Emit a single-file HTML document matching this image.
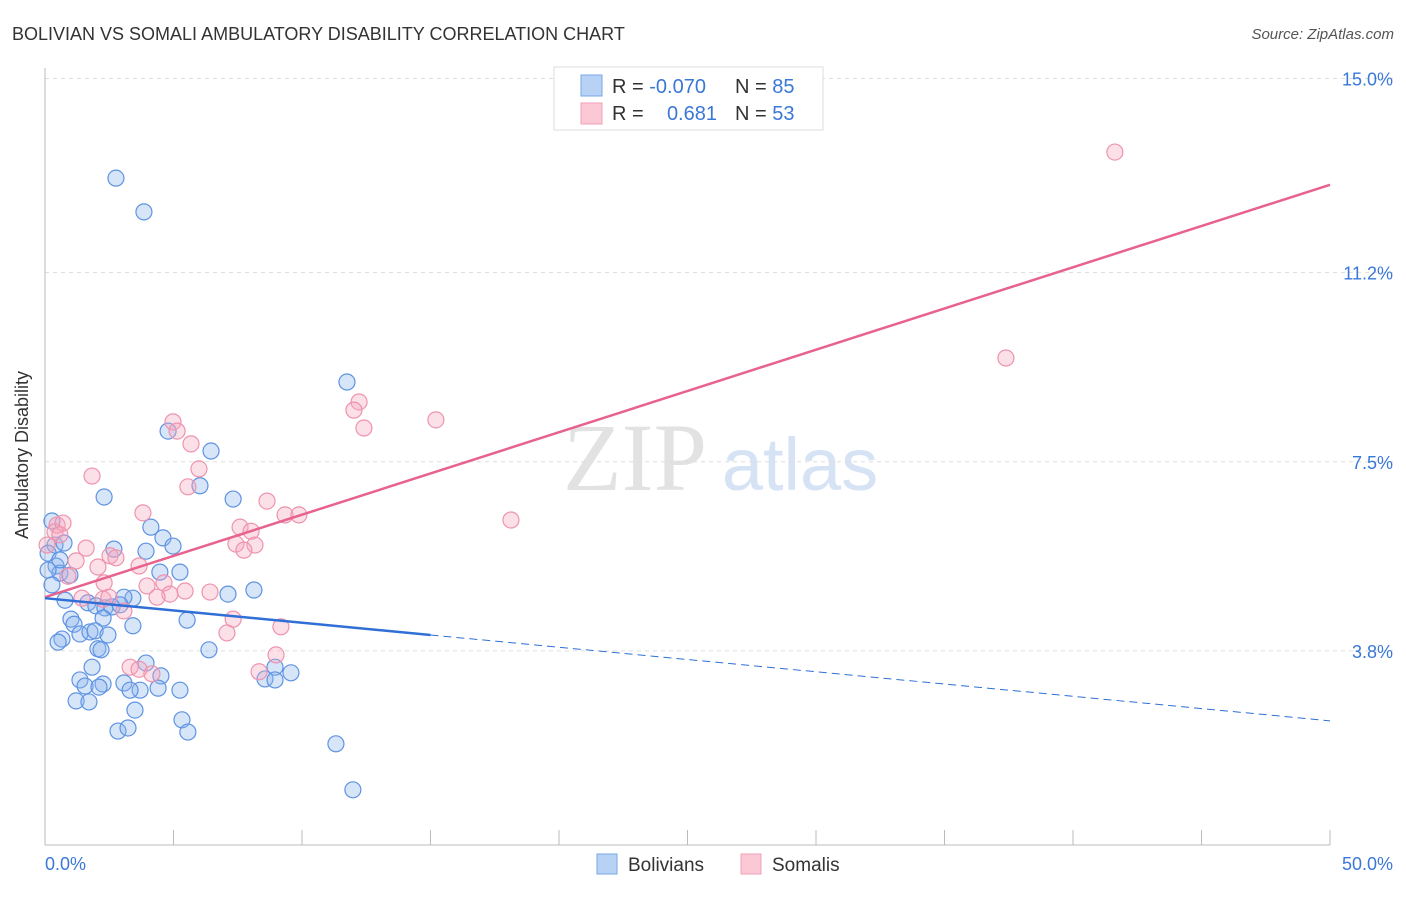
<!DOCTYPE html>
<html><head><meta charset="utf-8"><style>
body{margin:0;background:#fff;font-family:"Liberation Sans",sans-serif}
</style></head><body>
<svg width="1406" height="892" xmlns="http://www.w3.org/2000/svg" id="svg">
<text x="12" y="40" font-size="18" fill="#333">BOLIVIAN VS SOMALI AMBULATORY DISABILITY CORRELATION CHART</text>
<text x="1394" y="39" font-size="15" fill="#555" text-anchor="end" font-style="italic">Source: ZipAtlas.com</text>
<g>
<text x="635" y="490" font-size="96" font-family="Liberation Serif,serif" fill="#e2e2e2" text-anchor="middle">ZIP</text>
<text x="800" y="490" font-size="74" fill="#d6e3f5" text-anchor="middle">atlas</text>
</g>
<g id="grid"></g>
<g id="axes"></g>
<g id="pts"></g>
<g id="lines"></g>
<text x="28" y="455" font-size="18" fill="#333" text-anchor="middle" transform="rotate(-90 28 455)">Ambulatory Disability</text>
<text x="45" y="870" font-size="18" fill="#3a78d8">0.0%</text>
<text x="1393" y="870" font-size="18" fill="#3a78d8" text-anchor="end">50.0%</text>
<g>
<rect x="554" y="67" width="269" height="63" fill="#fff" stroke="#ddd"/>
<rect x="581" y="75" width="21" height="21" fill="#b8d2f5" stroke="#7aa6e6"/>
<rect x="581" y="103" width="21" height="21" fill="#fbc8d6" stroke="#f0a0b8"/>
<text x="612" y="93" font-size="20" fill="#333">R = <tspan fill="#3a78d8">-0.070</tspan></text>
<text x="735" y="93" font-size="20" fill="#333">N = <tspan fill="#3a78d8">85</tspan></text>
<text x="612" y="120" font-size="20" fill="#333">R = </text>
<text x="717" y="120" font-size="20" fill="#3a78d8" text-anchor="end">0.681</text>
<text x="735" y="120" font-size="20" fill="#333">N = <tspan fill="#3a78d8">53</tspan></text>
</g>
<g>
<rect x="597" y="854" width="20" height="20" fill="#b8d2f5" stroke="#7aa6e6"/>
<text x="628" y="871" font-size="19" fill="#333">Bolivians</text>
<rect x="741" y="854" width="20" height="20" fill="#fbc8d6" stroke="#f0a0b8"/>
<text x="772" y="871" font-size="19" fill="#333">Somalis</text>
</g>
</svg>
<script>
const yTicks=[3.8,7.5,11.2,15.0];
const yTickLabels=["3.8%","7.5%","11.2%","15.0%"];
const blueX=[2.76,3.85,11.75,4.79,6.46,6.03,2.30,7.32,4.12,4.59,3.93,4.98,2.68,0.27,0.39,0.74,0.12,0.43,0.58,5.25,4.47,8.13,7.12,3.42,3.07,0.78,1.67,1.98,2.33,2.61,2.92,1.01,1.13,2.26,5.53,3.42,1.36,1.75,1.95,2.45,0.66,0.51,2.06,2.18,6.38,3.93,1.83,8.95,9.57,8.56,8.95,1.36,1.56,2.26,2.10,3.07,4.51,4.40,3.70,3.31,5.25,1.21,1.71,3.50,5.33,2.84,3.23,5.56,11.32,11.98,0.12,0.27,0.58,0.97];
const blueY=[13.05,12.39,9.06,8.10,7.71,7.03,6.81,6.77,6.22,6.01,5.75,5.85,5.79,6.34,5.87,5.91,5.71,5.46,5.32,5.34,5.34,4.99,4.91,4.83,4.85,4.79,4.74,4.68,4.64,4.66,4.70,4.42,4.32,4.44,4.40,4.29,4.13,4.17,4.19,4.11,4.03,3.97,3.84,3.82,3.82,3.56,3.48,3.48,3.37,3.25,3.23,3.23,3.11,3.15,3.09,3.17,3.31,3.07,3.03,3.03,3.03,2.82,2.80,2.64,2.45,2.23,2.29,2.21,1.98,1.08,5.38,5.09,5.58,5.28];
const pinkX=[41.63,37.39,15.21,12.22,12.02,12.41,4.98,5.14,5.68,5.99,5.56,1.83,3.81,8.64,9.34,9.88,7.59,8.02,7.43,8.17,7.74,0.47,0.39,0.08,1.60,2.53,2.76,1.21,3.66,2.06,0.89,2.30,3.97,4.63,5.45,6.42,4.86,4.36,1.44,2.26,2.49,3.07,7.32,7.08,9.18,8.99,3.31,3.66,4.16,8.33,18.13,0.70,0.58];
const pinkY=[13.56,9.53,8.32,8.67,8.51,8.16,8.28,8.10,7.85,7.36,7.01,7.22,6.50,6.73,6.46,6.46,6.22,6.14,5.89,5.87,5.77,6.26,6.13,5.87,5.81,5.66,5.62,5.56,5.46,5.44,5.26,5.13,5.07,5.13,4.97,4.95,4.91,4.85,4.83,4.81,4.85,4.58,4.42,4.15,4.27,3.72,3.48,3.44,3.35,3.39,6.36,6.30,6.07];
const blueTrend=[4.83,2.43]; // at x=0 and x=50
const pinkTrend=[4.85,12.92];
const blueSolidEnd=15;
const X=v=>45+v*25.7, Y=v=>845-v*51.1;
const NS="http://www.w3.org/2000/svg";
function mk(t,a,p){const e=document.createElementNS(NS,t);for(const k in a)e.setAttribute(k,a[k]);p.appendChild(e);return e;}
const grid=document.getElementById('grid'),axes=document.getElementById('axes'),pts=document.getElementById('pts'),lines=document.getElementById('lines');
yTicks.forEach((t,i)=>{
 const l=mk('line',{x1:45,x2:1393,y1:Y(t),y2:Y(t),stroke:'#ddd','stroke-dasharray':'4,4'},grid);
 
 
 const tx=mk('text',{x:1393,y:Y(t)+7,'font-size':18,fill:'#3a78d8','text-anchor':'end'},grid);
 tx.textContent=yTickLabels[i];
 
 
});
const ya=mk('line',{x1:45,x2:45,y1:68,y2:845,stroke:'#bbb'},axes);


const xa=mk('line',{x1:45,x2:1330,y1:845,y2:845,stroke:'#bbb'},axes);


for(let i=0;i<=10;i++){
 const t=mk('line',{x1:X(i*5),x2:X(i*5),y1:830,y2:845,stroke:'#bbb'},axes);
 
 
}
blueX.forEach((x,i)=>{
 const c=mk('circle',{cx:X(x),cy:Y(blueY[i]),r:8,fill:'rgba(140,180,238,0.35)',stroke:'#5e93e2','stroke-width':1.2},pts);
 
 
});
pinkX.forEach((x,i)=>{
 const c=mk('circle',{cx:X(x),cy:Y(pinkY[i]),r:8,fill:'rgba(246,165,190,0.35)',stroke:'#ee93ae','stroke-width':1.2},pts);
 
 
});
const bAt=x=>blueTrend[0]+(blueTrend[1]-blueTrend[0])*x/50;
const pl=mk('line',{x1:X(0),y1:Y(pinkTrend[0]),x2:X(50),y2:Y(pinkTrend[1]),stroke:'#e8628e','stroke-width':2.5},lines);


const bl=mk('line',{x1:X(0),y1:Y(bAt(0)),x2:X(blueSolidEnd),y2:Y(bAt(blueSolidEnd)),stroke:'#2f6fd6','stroke-width':2.5},lines);


const bd=mk('line',{x1:X(blueSolidEnd),y1:Y(bAt(blueSolidEnd)),x2:X(50),y2:Y(bAt(50)),stroke:'#2f6fd6','stroke-width':1,'stroke-dasharray':'8,5'},lines);


</script>
</body></html>
